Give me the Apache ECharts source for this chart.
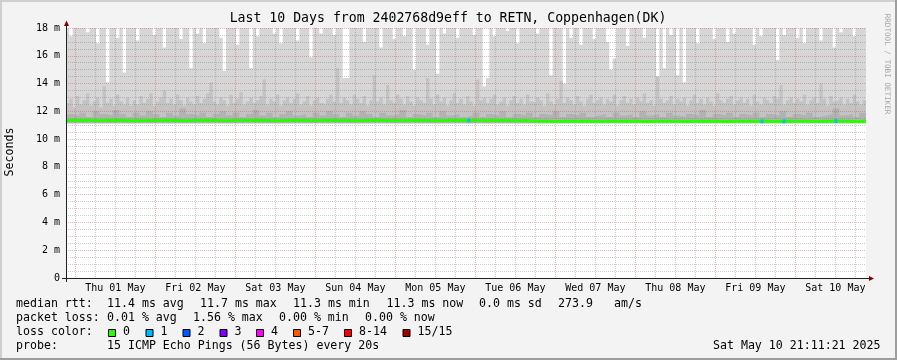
<!DOCTYPE html>
<html><head><meta charset="utf-8">
<script src="https://cdn.jsdelivr.net/npm/echarts@6/dist/echarts.min.js"></script>
<style>html,body{margin:0;padding:0;background:#f3f3f3;}#c{width:897px;height:360px;}</style>
</head><body><div id="c"></div>
<script>
// ---- data (hours are counted from Wed 30 Apr 00:00) ----
const titleText = 'Last 10 Days from 2402768d9eff to RETN, Coppenhagen(DK)';
const startHour = 21.189;          // 30 Apr 21:11:21
const spanHours = 240;             // 10 days
const dayLabels = ['Thu 01 May','Fri 02 May','Sat 03 May','Sun 04 May','Mon 05 May',
                   'Tue 06 May','Wed 07 May','Thu 08 May','Fri 09 May','Sat 10 May'];
const dayLabelHours = [36,60,84,108,132,156,180,204,228,252];   // noon of each day
const midnightHours = [24,48,72,96,120,144,168,192,216,240];
const sixHourHours = [30,36,42,54,60,66,78,84,90,102,108,114,126,132,138,150,156,162,
                      174,180,186,198,204,210,222,228,234,246,252,258];
const yLabelsUnit = ' m';

// outermost smoke: highest ping per hour slot (ms); values above 18 are clipped
const maxRtt = [
 19,17.4,19,19,19,19,17.7,19,19,16.9,19,19,14.1,19,19,17.3,19,14.8,19,19,
 19,17.1,19,19,19,19,17.5,19,19,16.6,19,19,19,19,17.2,19,19,15.1,19,17.6,
 19,16.9,19,19,19,19,17.3,14.9,19,19,19,16.8,19,19,19,15.1,19,17.4,19,19,
 19,19,17.6,19,16.9,19,19,19,19,17.1,19,19,19,15.9,19,19,17.6,19,19,19,
 17.5,19,19,14.4,14.4,19,19,19,19,17.0,19,19,19,19,16.6,19,19,19,17.2,19,
 19,17.4,19,19,15.0,19,19,19,16.8,19,19,14.7,19,17.6,19,19,19,17.3,19,19,
 19,19,17.5,19,19,13.8,14.4,19,17.4,19,19,19,17.8,19,19,16.9,19,19,19,19,
 19,17.6,19,19,19,14.6,19,19,19,14.0,19,17.3,19,19,16.8,19,19,19,17.2,19,
 19,19,17.0,15.0,15.8,19,19,19,16.7,19,19,19,19,17.3,19,19,19,14.5,19,15.1,
 19,17.5,19,14.6,19,14.1,19,19,19,16.9,19,19,19,19,17.2,19,19,19,17.0,19,
 17.6,19,19,19,19,19,16.8,19,17.4,19,19,19,19,15.7,19,17.5,19,19,19,17.3,
 19,16.9,19,19,19,19,17.1,19,19,19,16.6,19,17.7,19,19,19,17.4,19,19,19
];
// middle smoke: upper spread per hour slot (ms)
const midRtt = [
 12.6,12.9,12.3,13.1,12.5,12.8,13.3,12.4,12.7,13.0,12.3,13.8,12.6,12.9,12.4,13.2,12.7,12.5,13.0,12.4,
 12.8,12.5,13.1,12.6,12.9,13.3,12.4,12.7,13.0,13.5,12.6,12.9,12.5,13.2,12.8,12.4,13.0,12.7,12.5,13.1,
 12.6,12.9,13.3,14.1,12.7,12.5,13.0,12.8,12.4,13.2,12.6,12.9,13.4,12.5,12.7,13.0,12.6,12.8,13.1,14.3,
 12.5,12.9,12.7,13.2,12.4,12.8,13.0,12.6,12.9,13.3,12.5,12.7,13.1,12.4,12.8,13.0,12.6,12.5,12.9,13.2,
 12.7,15.1,12.6,13.0,12.8,12.5,13.2,12.9,12.6,13.1,12.4,12.8,14.6,12.7,13.0,12.5,13.9,12.8,12.6,13.2,
 12.9,12.5,13.1,12.7,12.4,13.0,12.8,12.6,14.4,12.9,12.5,13.2,12.7,13.0,12.4,12.8,13.3,12.6,12.9,12.5,
 13.1,12.7,12.4,14.3,12.8,13.0,12.6,12.9,13.2,12.5,12.7,13.0,12.4,12.8,13.1,12.6,12.9,12.5,13.2,12.7,
 12.6,13.0,12.8,12.4,13.3,12.7,12.5,12.9,14.2,12.6,13.0,12.8,12.5,13.1,12.7,12.4,12.9,13.2,12.6,12.8,
 13.0,12.5,12.9,12.7,13.2,12.4,12.8,13.1,12.6,12.9,12.5,13.0,12.7,13.3,12.6,12.8,12.4,14.5,12.9,12.6,
 12.8,13.1,12.5,12.9,12.7,13.0,12.4,12.8,13.2,12.6,12.9,12.5,13.0,12.7,12.4,13.3,12.8,12.6,12.9,13.1,
 12.5,12.8,13.0,12.6,12.9,12.4,13.2,12.7,12.5,13.0,12.8,12.6,13.1,12.9,13.9,12.5,12.8,13.0,12.6,12.9,
 12.7,13.2,12.5,12.8,13.0,12.6,14.0,12.9,12.4,13.1,12.7,12.8,13.0,12.5,12.9,12.6,13.2,12.7,12.5,12.8
];
// inner smoke: per 2-hour slot (ms)
const innerRtt = [
 11.8,11.7,11.9,11.6,12.0,11.8,11.7,12.1,11.8,11.6,11.9,11.7,12.0,11.8,11.6,11.9,11.7,12.2,11.8,11.7,
 11.9,11.6,11.8,12.0,11.7,11.9,11.6,11.8,12.1,11.7,11.9,11.6,11.8,12.0,11.7,11.8,11.6,11.9,11.7,12.0,
 11.8,11.6,11.9,11.7,12.0,11.8,11.6,11.9,11.7,11.8,12.1,11.6,11.8,11.7,11.9,11.6,12.0,11.7,11.8,11.6,
 11.7,11.9,11.6,11.8,11.7,12.0,11.6,11.8,11.7,11.9,11.6,11.8,11.7,12.0,11.6,11.8,11.7,11.9,11.6,11.7,
 11.8,11.6,11.9,11.7,11.8,11.6,12.0,11.7,11.8,11.6,11.9,11.7,11.6,11.8,11.7,12.1,11.6,11.8,11.7,11.9,
 11.6,11.8,11.7,11.9,11.6,11.8,11.7,12.0,11.6,11.8,11.7,11.9,11.6,11.7,11.8,12.2,11.7,11.8,11.6,11.9
];
const minRtt = 11.15;
// median rtt per 3-hour slot (ms)
const medianRtt = [
 11.34,11.35,11.33,11.34,11.35,11.34,11.33,11.34,11.34,11.35,11.34,11.33,11.34,11.35,11.34,11.33,11.34,11.34,11.35,11.34,
 11.33,11.34,11.35,11.34,11.33,11.35,11.34,11.34,11.33,11.34,11.35,11.34,11.33,11.34,11.35,11.34,11.33,11.34,11.35,11.34,
 11.34,11.33,11.35,11.34,11.33,11.34,11.29,11.28,11.27,11.28,11.29,11.28,11.27,11.28,11.29,11.28,11.28,11.27,11.28,11.29,
 11.28,11.27,11.28,11.29,11.28,11.27,11.28,11.29,11.28,11.28,11.27,11.28,11.29,11.28,11.27,11.28,11.29,11.28,11.27,11.28
];
// [hour, median ms, lost pings]
const lossEvents = [[142.0,11.34,1],[230.0,11.28,1],[236.6,11.28,1],[252.2,11.30,1]];
const lossLabels = ['0','1','2','3','4','5-7','8-14','15/15'];
const lossColors = ['#26ff00','#00b8ff','#0059ff','#7e00ff','#ff00ff','#ff5500','#ff0000','#a10000'];

// ---- helpers ----
function stepPairs(arr, step){
  const out = arr.map((v,i)=>[startHour + i*step, v]);
  out.push([startHour + arr.length*step, arr[arr.length-1]]);
  return out;
}
const FONT = "'DejaVu Sans Mono', monospace";
const MGRID = 'rgba(220,60,60,0.38)';
const GRID = 'rgba(120,120,120,0.38)';

function smoke(name, arr, step, color){
  return {name, type:'line', step:'end', data: stepPairs(arr, step), showSymbol:false,
    lineStyle:{width:0}, areaStyle:{origin:minRtt, color, opacity:1}, silent:true, z:2};
}

const chart = echarts.init(document.getElementById('c'));
const legendY = [304.3, 318.3, 332.3, 346.3];
const sqX = [108, 145.5, 182.5, 219.5, 256, 293, 344, 402.5];
const graphic = [
  {type:'rect', shape:{x:0,y:0,width:897,height:2}, style:{fill:'#cfcfcf'}},
  {type:'rect', shape:{x:0,y:0,width:2,height:360}, style:{fill:'#cfcfcf'}},
  {type:'rect', shape:{x:0,y:358,width:897,height:2}, style:{fill:'#9e9e9e'}},
  {type:'rect', shape:{x:895,y:0,width:2,height:360}, style:{fill:'#9e9e9e'}},
  {type:'text', x:448, y:19, style:{text:titleText, font:'13.2px '+FONT, fill:'#000', align:'center', verticalAlign:'middle'}},
  {type:'text', x:10, y:152, rotation:Math.PI/2, style:{text:'Seconds', font:'11.6px '+FONT, fill:'#000', align:'center', verticalAlign:'middle'}},
  {type:'text', x:887, y:64, rotation:-Math.PI/2, style:{text:'RRDTOOL / TOBI OETIKER', font:'7.6px '+FONT, fill:'#a8a8a8', align:'center', verticalAlign:'middle'}},
  // axis lines and arrows
  {type:'line', z:20, shape:{x1:62,y1:278.5,x2:870,y2:278.5}, style:{stroke:'#202020', lineWidth:1}},
  {type:'line', z:20, shape:{x1:66.5,y1:282,x2:66.5,y2:25}, style:{stroke:'#202020', lineWidth:1}},
  {type:'polygon', z:21, shape:{points:[[64,26],[69,26],[66.5,20.5]]}, style:{fill:'#800000'}},
  {type:'polygon', z:21, shape:{points:[[869,276],[869,281],[874,278.5]]}, style:{fill:'#800000'}},
];
function lt(x, y, text, align){
  graphic.push({type:'text', x, y, style:{text, font:'11.6px '+FONT, fill:'#000', align:align||'left', verticalAlign:'middle'}});
}
lt(16, legendY[0], 'median rtt:');
lt(107, legendY[0], '11.4 ms avg'); lt(200, legendY[0], '11.7 ms max'); lt(293, legendY[0], '11.3 ms min');
lt(386.5, legendY[0], '11.3 ms now'); lt(479, legendY[0], '0.0 ms sd'); lt(558, legendY[0], '273.9'); lt(614, legendY[0], 'am/s');
lt(16, legendY[1], 'packet loss:');
lt(107, legendY[1], '0.01 % avg'); lt(193, legendY[1], '1.56 % max'); lt(279, legendY[1], '0.00 % min'); lt(365, legendY[1], '0.00 % now');
lt(16, legendY[2], 'loss color:');
lossLabels.forEach((l,i)=>{
  graphic.push({type:'rect', shape:{x:sqX[i]+0.5, y:329.5, width:7, height:7}, style:{fill:lossColors[i], stroke:'#000', lineWidth:1}});
  lt(sqX[i]+15, legendY[2], l);
});
lt(16, legendY[3], 'probe:');
lt(107, legendY[3], '15 ICMP Echo Pings (56 Bytes) every 20s');
lt(880.5, legendY[3], 'Sat May 10 21:11:21 2025', 'right');

chart.setOption({
  animation:false,
  backgroundColor:'#f3f3f3',
  grid:{left:66, top:28, width:800, height:250, containLabel:false, show:true, backgroundColor:'#ffffff', borderWidth:0},
  xAxis:[
    {type:'value', min:startHour, max:startHour+spanHours, z:5,
     axisLine:{show:false}, axisTick:{show:false, customValues:midnightHours},
     splitLine:{show:true, lineStyle:{color:MGRID, type:'dotted', width:1}},
     axisLabel:{customValues:dayLabelHours, margin:5, fontFamily:FONT, fontSize:10, color:'#000',
       formatter:(v)=>dayLabels[Math.round((v-36)/24)]}},
    {type:'value', min:startHour, max:startHour+spanHours, z:4, position:'bottom',
     axisLine:{show:false}, axisTick:{show:false, customValues:sixHourHours}, axisLabel:{show:false},
     splitLine:{show:true, lineStyle:{color:GRID, type:'dotted', width:1}}}
  ],
  yAxis:{type:'value', min:0, max:18, interval:2, z:5,
    axisLine:{show:false}, axisTick:{show:false},
    axisLabel:{margin:6, fontFamily:FONT, fontSize:10, color:'#000', formatter:(v)=> v===0 ? '0' : v+yLabelsUnit},
    splitLine:{show:true, lineStyle:{color:MGRID, type:'dotted', width:1}},
    minorTick:{show:false, splitNumber:4},
    minorSplitLine:{show:true, lineStyle:{color:GRID, type:'dotted', width:1}}},
  series:[
    smoke('max', maxRtt, 1, '#d6d6d6'),
    smoke('mid', midRtt, 1, '#c3c3c3'),
    smoke('inner', innerRtt, 2, '#b2b2b2'),
    {name:'median', type:'line', step:'end', data:stepPairs(medianRtt, 3), showSymbol:false, silent:true, z:8,
     lineStyle:{color:lossColors[0], width:3}},
    {name:'loss', type:'scatter', z:9, silent:true, symbol:'rect', symbolSize:[3,4],
     data: lossEvents.map(e=>({value:[e[0], e[1]], itemStyle:{color:lossColors[e[2]]}}))}
  ],
  graphic
});
</script></body></html>
